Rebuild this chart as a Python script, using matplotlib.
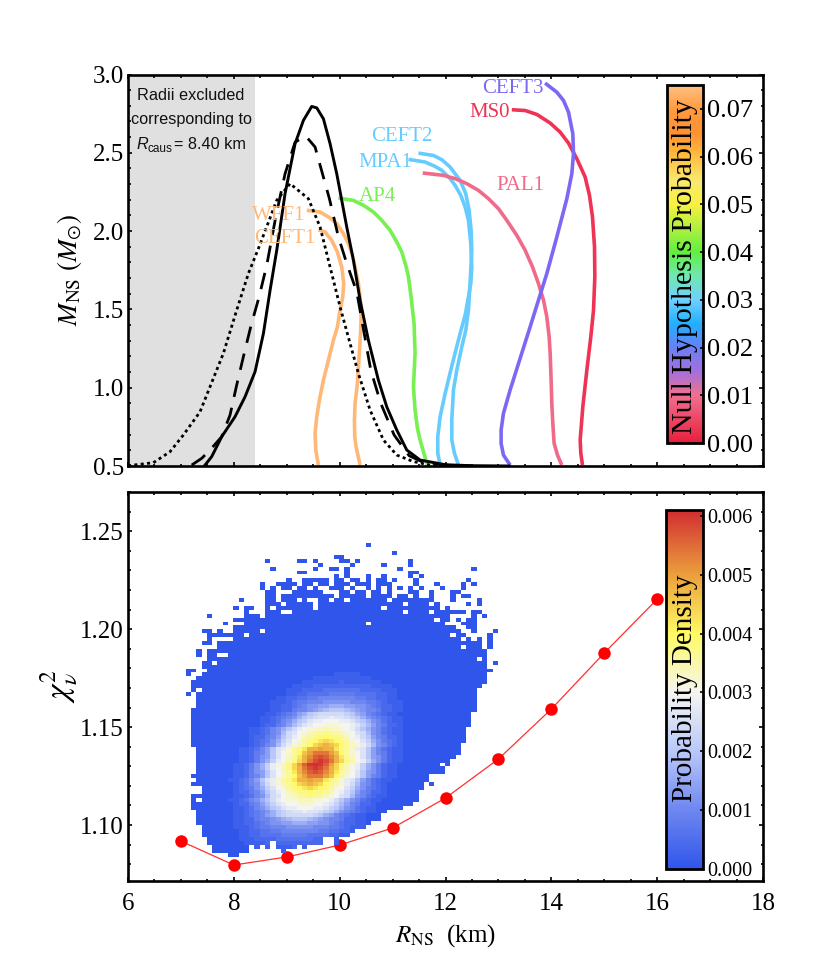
import numpy as np
import matplotlib
matplotlib.use("Agg")
import matplotlib.pyplot as plt
from matplotlib.cm import ScalarMappable
from matplotlib.colors import LinearSegmentedColormap, Normalize
from matplotlib.ticker import MultipleLocator, FormatStrFormatter

plt.rcParams['font.family'] = ['Liberation Serif', 'DejaVu Serif']
plt.rcParams['mathtext.fontset'] = 'stix'

# ---------- top panel: mass-radius curves ----------
SOLID_R = [7.456,7.582,7.771,8.023,8.212,8.401,8.559,8.685,8.811,8.968,9.157,9.315,9.472,9.567,9.693,9.819,9.945,10.134,10.26,10.386,10.543,10.732,10.89,11.079,11.268,11.52,12.0,12.5,13.2]
SOLID_M = [.506,.56,.687,.815,.942,1.102,1.346,1.622,1.878,2.239,2.558,2.707,2.796,2.787,2.717,2.558,2.366,2.026,1.814,1.559,1.303,1.048,.878,.73,.602,.538,.508,.502,.5]
DASHED_R = [7.204,7.393,7.55,7.771,7.928,8.054,8.18,8.319,8.477,8.622,8.792,8.968,9.157,9.359,9.535,9.649,9.806,9.976,10.134,10.323,10.436,10.588,10.777,11.029,11.312,11.552,12.0,12.5]
DASHED_M = [.506,.549,.602,.687,.825,1.017,1.197,1.389,1.58,1.782,2.09,2.366,2.568,2.607,2.537,2.398,2.207,1.963,1.793,1.612,1.399,1.112,.9,.698,.566,.528,.505,.5]
DOTTED_R = [6.0,6.479,6.794,7.046,7.361,7.55,7.802,8.054,8.275,8.464,8.811,9.063,9.409,9.63,9.787,10.008,10.197,10.354,10.575,10.827,11.079,11.394,11.709,12.1]
DOTTED_M = [.502,.521,.591,.698,.846,1.006,1.219,1.495,1.729,1.888,2.197,2.303,2.207,2.026,1.814,1.516,1.282,1.091,.857,.666,.57,.528,.506,.5]

EOS_NAMES = ['WFF1','CEFT1','AP4','CEFT2','MPA1','PAL1','MS0','CEFT3']
EOS_COLORS = ['#FFB878','#FFB878','#77F050','#66CCFF','#66CCFF','#F06A8A','#EE3355','#7B68F5']
EOS_R = [
 [9.378,9.63,9.819,9.945,10.071,10.165,10.241,10.291,10.354,10.386,10.405,10.398,10.367,10.335,10.291,10.279,10.285,10.31,10.386],
 [9.598,9.724,9.85,9.957,10.039,10.077,10.058,10.008,9.957,9.882,9.787,9.693,9.617,9.567,9.535,9.548,9.598],
 [9.976,10.26,10.449,10.638,10.795,10.953,11.079,11.173,11.249,11.30,11.35,11.406,11.425,11.394,11.425,11.47,11.52,11.646,11.68],
 [11.489,11.772,11.93,12.087,12.276,12.383,12.446,12.484,12.497,12.478,12.434,12.383,12.308,12.213,12.15,12.119,12.119,12.169,12.245],
 [11.30,11.615,11.804,11.93,12.087,12.182,12.289,12.371,12.434,12.478,12.497,12.478,12.434,12.371,12.276,12.131,11.993,11.898,11.854,11.854,11.898],
 [11.57,11.961,12.182,12.402,12.623,12.812,13.001,13.158,13.347,13.505,13.644,13.757,13.852,13.915,13.959,13.978,13.996,14.009,14.028,14.053,14.116,14.198],
 [13.253,13.505,13.726,13.978,14.167,14.324,14.482,14.639,14.721,14.778,14.816,14.822,14.797,14.746,14.671,14.595,14.545,14.557,14.589],
 [13.883,14.104,14.23,14.324,14.406,14.419,14.387,14.293,14.104,13.915,13.757,13.6,13.41,13.221,13.095,13.051,13.051,13.095,13.221],
]
EOS_M = [
 [2.133,2.122,2.084,2.048,1.984,1.92,1.846,1.771,1.665,1.58,1.452,1.367,1.197,1.027,.9,.793,.687,.623,.506],
 [2.009,1.994,1.941,1.867,1.771,1.665,1.58,1.495,1.388,1.303,1.176,1.048,.921,.815,.708,.602,.506],
 [2.211,2.196,2.165,2.122,2.069,2.005,1.931,1.867,1.782,1.707,1.58,1.41,1.219,1.006,.857,.74,.666,.517,.5],
 [2.498,2.483,2.456,2.409,2.324,2.239,2.133,2.005,1.878,1.75,1.495,1.367,1.261,1.112,.985,.793,.666,.581,.506],
 [2.458,2.441,2.413,2.388,2.335,2.292,2.228,2.154,2.069,1.92,1.771,1.665,1.58,1.463,1.346,1.155,.963,.815,.687,.581,.506],
 [2.371,2.356,2.335,2.303,2.26,2.207,2.143,2.069,1.973,1.878,1.771,1.665,1.559,1.452,1.325,1.219,1.049,.9,.772,.644,.57,.506],
 [2.775,2.77,2.745,2.69,2.632,2.562,2.462,2.345,2.228,2.09,1.899,1.707,1.495,1.325,1.112,.878,.666,.581,.506],
 [2.945,2.887,2.834,2.76,2.622,2.494,2.366,2.207,1.963,1.729,1.559,1.389,1.187,.985,.836,.73,.644,.57,.506],
]
EOS_LABEL_R = [8.85,8.97,10.71,11.18,10.86,13.41,12.84,13.28]
EOS_LABEL_M = [2.10,1.952,2.22,2.604,2.44,2.29,2.758,2.91]
R_CAUS = 8.40

# ---------- bottom panel: reduced chi-square curve ----------
CHI_R = [7,8,9,10,11,12,13,14,15,16]
CHI_V = [1.0918,1.0796,1.0837,1.0898,1.0985,1.1138,1.1337,1.1592,1.1878,1.2153]

# ---------- bottom panel: histogram ----------
R_FIRST, R_BIN = 7.09, 0.1
CHI_TOP, CHI_BIN = 1.2439, 0.002
N_COLS, N_ROWS = 59, 80
OCCUPIED = {
0:[(34,34)],2:[(39,39)],3:[(28,29)],
4:[(15,15),(21,22),(24,24),(29,30),(32,32),(42,42)],
5:[(25,25),(31,31),(37,37),(42,42)],
6:[(16,16),(24,24),(27,28),(30,30),(40,40),(54,54)],
7:[(21,22),(30,30),(42,43)],
8:[(28,28),(30,30),(34,34),(37,37),(42,42),(44,44)],
9:[(19,19),(22,26),(28,29),(31,32),(34,34),(36,37),(39,39),(43,43),(53,53)],
10:[(14,14),(17,20),(22,23),(25,26),(28,30),(32,34),(36,38),(43,43),(47,47),(52,52),(54,54)],
11:[(14,14),(16,16),(18,19),(21,22),(24,24),(27,29),(31,31),(34,34),(36,36),(38,38),(40,40),(42,42),(44,44),(48,48),(52,52)],
12:[(15,16),(20,25),(29,30),(32,33),(35,36),(38,38),(42,43),(46,46),(50,51)],
13:[(15,16),(18,27),(29,33),(35,38),(40,41),(43,43),(46,46),(50,50),(52,53)],
14:[(10,10),(15,16),(18,20),(22,22),(25,26),(28,29),(31,37),(39,46),(50,50),(55,55)],
15:[(15,17),(19,23),(25,40),(42,45),(47,47),(53,53),(55,55)],
16:[(9,9),(11,12),(15,15),(17,23),(25,36),(38,47),(49,49)],
17:[(11,11),(15,17),(20,40),(42,45),(47,52),(54,55)],
18:[(4,4),(11,13),(15,49),(54,54),(56,56)],
19:[(9,46),(48,49),(51,51),(53,54)],
20:[(7,7),(11,33),(35,48),(52,54)],
21:[(9,50),(53,54)],
22:[(3,4),(6,6),(9,13),(15,51),(54,54),(58,58)],
23:[(4,10),(12,49),(51,52),(57,57)],
24:[(4,4),(9,51),(53,53),(55,55),(57,57)],
25:[(3,4),(6,55),(57,57)],
26:[(6,51),(53,55),(57,57)],
27:[(2,2),(4,56)],
28:[(2,2),(4,5),(8,56)],
29:[(4,54),(56,56)],
30:[(3,4),(6,56),(58,58)],
31:[(3,56)],32:[(0,1),(4,57)],33:[(0,0),(3,56)],34:[(2,56)],35:[(1,56)],36:[(1,55)],
37:[(1,1),(3,54)],38:[(0,0),(2,54)],39:[(2,54)],40:[(2,54)],41:[(2,54)],42:[(1,54)],
43:[(1,53)],44:[(1,53)],45:[(1,53)],46:[(1,53)],47:[(1,52)],48:[(1,52)],49:[(1,52)],50:[(1,52)],
51:[(1,51)],52:[(2,51)],53:[(2,51)],54:[(2,50)],55:[(2,49)],56:[(2,47),(49,49)],57:[(2,48)],58:[(2,48)],
59:[(1,45)],60:[(2,45)],61:[(1,44),(46,46)],62:[(3,44)],63:[(3,43)],64:[(1,43)],65:[(1,1),(3,43)],
66:[(1,42)],67:[(1,40)],68:[(2,37)],69:[(2,36)],70:[(2,36)],71:[(2,34)],72:[(3,33)],73:[(3,31)],74:[(3,30)],
75:[(4,25),(28,28)],76:[(4,15),(17,25),(28,28)],77:[(5,11),(13,13),(15,15),(17,20),(22,22)],
78:[(5,11),(18,18)],79:[(8,9)],
}
# row: (first column, density in base-36 units of 0.0002)
DENSITY_UNIT = 0.0002
DENSITY_ROWS = {
33:(14,"0000000000000011"+"1"+"1100000000000000"),
34:(13,"0000000000011111"+"1"+"1111100000000000"),
35:(13,"0000000001111111"+"2"+"1111111000000000"),
36:(13,"0000000111122222"+"2"+"2222211110000000"),
37:(13,"0000001112222333"+"3"+"3332222111000000"),
38:(13,"0000001122333344"+"4"+"4433332211000000"),
39:(12,"0000011223344555"+"5"+"5554433221100000"),
40:(12,"0000111234455566"+"6"+"6655544321110000"),
41:(12,"0000112234566778"+"8"+"8776654322110000"),
42:(12,"000011224556789a"+"a"+"a987655422110000"),
43:(11,"000011234578abcc"+"c"+"ccba875432110000"),
44:(11,"00011234568abcdd"+"e"+"ddcba86543211000"),
45:(11,"0001123568abdeef"+"f"+"feedba8653211000"),
46:(11,"0001224579bdeffg"+"g"+"gffedb9754221000"),
47:(10,"001123568acefggh"+"h"+"hggfeca865321100"),
48:(10,"001123569cdfghii"+"j"+"iihgfdc965321100"),
49:(10,"00122457acefhijj"+"k"+"jjihfeca75422100"),
50:(10,"00123468bdfgijkl"+"m"+"lkjigfdb86432100"),
51:(10,"00123569ceghikmn"+"o"+"nmkihgec96532100"),
52:(9,"0112357adegijloo"+"p"+"ooljigeda7532110"),
53:(9,"0112457adfgiknpr"+"r"+"rpnkigfda7542110"),
54:(9,"0112467adfhiloqs"+"t"+"sqolihfda7642110"),
55:(9,"0112468befhjmort"+"u"+"tromjhfeb8642110"),
56:(8,"0112468beghjmpsu"+"v"+"uspmjhgeb8642110"),
57:(8,"0112468befhjmort"+"u"+"tromjhfeb8642110"),
58:(8,"0112467adfhiloqs"+"t"+"sqolihfda7642110"),
59:(8,"0112457adfgiknpr"+"r"+"rpnkigfda7542110"),
60:(7,"0112357adegijloo"+"p"+"ooljigeda7532110"),
61:(7,"00123569ceghikmn"+"o"+"nmkihgec96532100"),
62:(7,"00123468bdfgijkl"+"m"+"lkjigfdb86432100"),
63:(7,"00122457acefhijj"+"k"+"jjihfeca75422100"),
64:(7,"001123569cdfghii"+"j"+"iihgfdc965321100"),
65:(6,"001123568acefggh"+"h"+"hggfeca865321100"),
66:(6,"0001224579bdeffg"+"g"+"gffedb9754221000"),
67:(6,"0001123568abdeef"+"f"+"feedba8653211000"),
68:(6,"00011234568abcdd"+"e"+"ddcba86543211000"),
69:(5,"000011234578abcc"+"c"+"ccba875432110000"),
70:(5,"000011224556789a"+"a"+"a987655422110000"),
71:(5,"0000112234566778"+"8"+"8776654322110000"),
72:(5,"0000111234455566"+"6"+"6655544321110000"),
73:(5,"0000011223344555"+"5"+"5554433221100000"),
74:(4,"0000001122333344"+"4"+"4433332211000000"),
75:(4,"0000001112222333"+"3"+"3332222111000000"),
76:(4,"0000000111122222"+"2"+"2222211110000000"),
77:(4,"0000000001111111"+"2"+"1111111000000000"),
78:(4,"0000000000011111"+"1"+"1111100000000000"),
}

DENSITY_STOPS = [0, 1/6.1, 2/6.1, 3/6.1, 4/6.1, 5/6.1, 1]
DENSITY_COLORS = ['#3055EB','#6E87F0','#B9C8FA','#F5F5F0','#FFFA64','#EBA03C','#D22D32']
NULL_STOPS = [0,.133,.2,.267,.333,.4,.467,.533,.6,.667,.733,.8,.867,.933,1]
NULL_COLORS = ['#E8203C','#F07090','#A070E0','#6A80F5','#20B0FF','#70D0FF','#70E8B0','#60F040','#B0F040',
               '#F8F040','#F8E870','#FFC040','#FF9030','#FF9A40','#FFC080']

W, H = 817, 959
fig = plt.figure(figsize=(W/100, H/100), dpi=100)

def px_axes(l, t, r, b):
    return fig.add_axes([l/W, 1-b/H, (r-l)/W, (b-t)/H])

SPINE = 1.9
def style(ax):
    for s in ax.spines.values():
        s.set_linewidth(SPINE)
    ax.tick_params(which='major', direction='in', top=True, right=True, length=3.2, width=1.2, labelsize=18)
    ax.tick_params(which='minor', direction='in', top=True, right=True, length=1.8, width=1.2)
    ax.tick_params(axis='y', which='major', pad=3)
    ax.tick_params(axis='x', which='major', pad=9)
    ax.xaxis.set_major_locator(MultipleLocator(2))
    ax.xaxis.set_minor_locator(MultipleLocator(0.5))

# ---- top axes
ax1 = px_axes(128, 74.5, 763, 466)
ax1.set_xlim(6, 18)
ax1.set_ylim(0.5, 3.0)
style(ax1)
ax1.yaxis.set_major_locator(MultipleLocator(0.5))
ax1.yaxis.set_minor_locator(MultipleLocator(0.1))
ax1.tick_params(axis='x', which='both', labelbottom=False)
ax1.axvspan(6, R_CAUS, color='#E0E0E0', lw=0, zorder=0)

ax1.plot(SOLID_R, SOLID_M, color='k', lw=2.1, solid_joinstyle='round', zorder=3)
ax1.plot(DASHED_R, DASHED_M, color='k', lw=2.0, dashes=(6, 4), zorder=3)
ax1.plot(DOTTED_R, DOTTED_M, color='k', lw=2.0, dashes=(1.1, 1.2), zorder=3)
for name, col, rr, mm, lr, lm in zip(EOS_NAMES, EOS_COLORS, EOS_R, EOS_M, EOS_LABEL_R, EOS_LABEL_M):
    ax1.plot(rr, mm, color=col, lw=2.6, solid_joinstyle='round', solid_capstyle='butt', zorder=2)
    ax1.text(lr, lm, name, color=col, fontsize=15, ha='center', va='center', zorder=4)

SANS = ['Liberation Sans', 'DejaVu Sans']
TXT = '#111111'
ax1.text(7.19, 2.863, 'Radii excluded', family=SANS, fontsize=11.7, ha='center', va='center', color=TXT)
ax1.text(7.19, 2.711, 'corresponding to', family=SANS, fontsize=11.7, ha='center', va='center', color=TXT)
ax1.text(6.17, 2.553, 'R', family=SANS, style='italic', fontsize=11.7, ha='left', va='center', color=TXT)
ax1.text(6.37, 2.525, 'caus', family=SANS, fontsize=8.5, ha='left', va='center', color=TXT)
ax1.text(6.87, 2.553, '= 8.40 km', family=SANS, fontsize=11.7, ha='left', va='center', color=TXT)

ax1.set_ylabel(r'$M_{\mathrm{NS}}$ $(M_{\odot})$', fontsize=19.5, labelpad=6)

# ---- bottom axes
ax2 = px_axes(128, 492, 763, 880.5)
ax2.set_xlim(6, 18)
ax2.set_ylim(1.0717, 1.27)
style(ax2)
ax2.yaxis.set_major_locator(MultipleLocator(0.05))
ax2.yaxis.set_minor_locator(MultipleLocator(0.01))
ax2.yaxis.set_major_formatter(FormatStrFormatter('%.2f'))

density = np.full((N_ROWS, N_COLS), np.nan)
for row, spans in OCCUPIED.items():
    for a, b in spans:
        density[row, a:b+1] = 0.0
for row, (first, codes) in DENSITY_ROWS.items():
    for k, ch in enumerate(codes):
        c = first + k
        if c < N_COLS and not np.isnan(density[row, c]):
            density[row, c] = int(ch, 36) * DENSITY_UNIT

r_edges = R_FIRST + R_BIN*np.arange(N_COLS+1)
chi_edges = CHI_TOP - CHI_BIN*np.arange(N_ROWS+1)
dens_cmap = LinearSegmentedColormap.from_list('dens', list(zip(DENSITY_STOPS, DENSITY_COLORS)))
dens_cmap.set_bad((1, 1, 1, 0))
mesh = ax2.pcolormesh(r_edges, chi_edges, np.ma.masked_invalid(density), cmap=dens_cmap,
                      vmin=0, vmax=0.0061, zorder=3, linewidth=0, antialiased=False)

ax2.plot(CHI_R, CHI_V, color='#FF3030', lw=0.9, zorder=2)
ax2.plot(CHI_R, CHI_V, 'o', color='#FF0000', ms=9, mew=0, zorder=2)

ax2.set_xlabel(r'$R_{\mathrm{NS}}$  (km)', fontsize=18, labelpad=5)
ax2.set_ylabel(r'$\chi^{2}_{\nu}$', fontsize=24, labelpad=1)

# ---- colorbars
null_cmap = LinearSegmentedColormap.from_list('null', list(zip(NULL_STOPS, NULL_COLORS)))
def cbar(l, t, r, b, mappable, ticks, fmt, fs, label, ly, lfs):
    cax = px_axes(l, t, r, b)
    cb = fig.colorbar(mappable, cax=cax)
    cb.set_ticks(ticks)
    cb.set_ticklabels([fmt % v for v in ticks])
    cb.outline.set_linewidth(2.0)
    cb.ax.tick_params(direction='in', length=2, width=1.2, labelsize=fs, pad=3, colors='k')
    cb.ax.minorticks_off()
    cax.text(0.5, ly, label, transform=cax.transAxes, rotation=90, fontsize=lfs,
             ha='center', va='center', color='k', zorder=10)
    return cb

TOP_TICKS = [0.00,0.01,0.02,0.03,0.04,0.05,0.06,0.07]
BOT_TICKS = [0.000,0.001,0.002,0.003,0.004,0.005,0.006]
cbar(667, 85, 703, 443, ScalarMappable(Normalize(0, 0.075), null_cmap), TOP_TICKS, '%.2f', 19, 'Null Hypothesis Probability', 0.494, 21.5)
cbar(666, 510, 703, 869, mesh, BOT_TICKS, '%.3f', 14.5, 'Probability Density', 0.504, 21)

fig.savefig('out.png', dpi=100)
